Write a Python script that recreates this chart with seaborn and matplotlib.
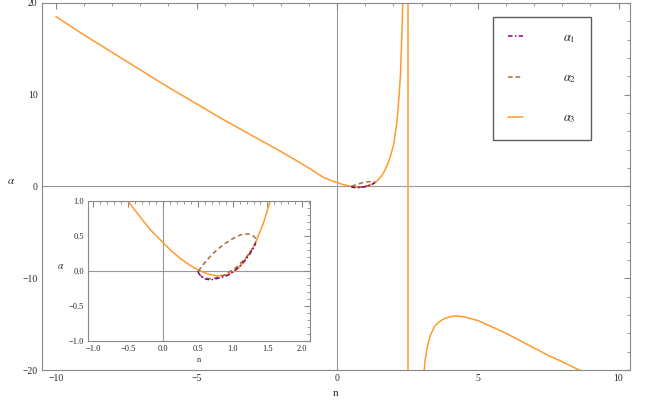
import seaborn as sns
import matplotlib.pyplot as plt
import pandas as pd
from matplotlib.ticker import AutoMinorLocator

# values
n_a3 = [-10, -9, -8, -7, -6, -5, -4, -3, -2, -1.5, -1, -0.75, -0.5, -0.3, -0.17, 0, 0.12, 0.25,
        0.38, 0.5, 0.64, 0.78, 0.92, 1.04, 1.12, 1.2, 1.27, 1.33, 1.44, 1.54, 1.65, 1.8, 1.9,
        2.0, 2.1, 2.15, 2.2, 2.25, 2.28, 2.31, 2.33]
a3 = [18.5, 16.5, 14.6, 12.7, 10.8, 9.0, 7.2, 5.5, 3.8, 2.9, 2.0, 1.5, 1.0, 0.74, 0.58, 0.41,
      0.29, 0.18, 0.09, 0.02, -0.04, -0.07, -0.05, 0.0, 0.08, 0.2, 0.3, 0.41, 0.68, 1.0,
      1.5, 2.5, 3.4, 4.5, 6.5, 8.0, 10.0, 12.3, 15.0, 17.8, 20.5]
n_a3_asym = [2.52, 2.52]
a3_asym = [20.5, -20.5]
n_a3_right = [3.08, 3.12, 3.2, 3.3, 3.45, 3.6, 3.8, 4.0, 4.2, 4.5, 5, 5.5, 6, 6.5, 7, 7.5, 8, 8.8]
a3_right = [-20.3, -19.0, -17.5, -16.3, -15.3, -14.8, -14.4, -14.2, -14.1, -14.2, -14.6, -15.3,
            -16.0, -16.8, -17.6, -18.4, -19.1, -20.3]
n_a2 = [0.51, 0.55, 0.6, 0.67, 0.75, 0.82, 0.9, 0.98, 1.05, 1.12, 1.19, 1.25, 1.3, 1.33, 1.34,
        1.32, 1.27, 1.2, 1.12, 1.05, 0.97, 0.9, 0.82, 0.75, 0.68, 0.62, 0.56, 0.53, 0.51]
a2 = [0.0, 0.06, 0.12, 0.2, 0.28, 0.34, 0.4, 0.45, 0.49, 0.52, 0.53, 0.53, 0.5, 0.47, 0.44,
      0.38, 0.3, 0.2, 0.12, 0.05, 0.0, -0.05, -0.08, -0.1, -0.11, -0.1, -0.08, -0.05, 0.0]
n_a1 = [0.5, 0.52, 0.55, 0.6, 0.65, 0.72, 0.8, 0.88, 0.95, 1.02, 1.1, 1.18, 1.25, 1.3, 1.33]
a1 = [0.0, -0.04, -0.08, -0.11, -0.12, -0.12, -0.1, -0.08, -0.05, 0.0, 0.07, 0.15, 0.25, 0.33, 0.4]

c1, c2, c3 = '#8B008B', '#A0703C', '#FF9A2E'
sns.set_style('white')
plt.rcParams['font.family'] = ['Liberation Serif', 'DejaVu Serif']
plt.rcParams['mathtext.fontset'] = 'stix'


def draw(ax):
    kw = dict(estimator=None, sort=False, ax=ax, lw=1.1)
    sns.lineplot(x=n_a3, y=a3, color=c3, **kw)
    sns.lineplot(x=n_a3_asym, y=a3_asym, color=c3, **kw)
    sns.lineplot(x=n_a3_right, y=a3_right, color=c3, **kw)
    sns.lineplot(x=n_a2, y=a2, color=c2, ls=(0, (3, 2)), **kw)
    sns.lineplot(x=n_a1, y=a1, color=c1, ls=(0, (3, 1.5, 1, 1.5)), **kw)
    ax.axhline(0, color='#999999', lw=0.8, zorder=0)
    ax.axvline(0, color='#999999', lw=0.8, zorder=0)
    for s in ax.spines.values():
        s.set_color('#888888')
        s.set_linewidth(0.8)
    ax.xaxis.set_minor_locator(AutoMinorLocator(5))
    ax.yaxis.set_minor_locator(AutoMinorLocator(5))
    ax.tick_params(which='both', direction='in', top=True, right=True, color='#888888',
                   labelsize=7, pad=3)
    ax.tick_params(which='major', length=4)
    ax.tick_params(which='minor', length=2)


fig = plt.figure(figsize=(6.54, 4.08), dpi=100)
ax = fig.add_axes([0.064, 0.093, 0.899, 0.9])
draw(ax)
ax.set_xlim(-10.5, 10.4)
ax.set_ylim(-20, 20)
ax.set_xticks([-10, -5, 0, 5, 10])
ax.set_yticks([-20, -10, 0, 10, 20])
ax.set_xlabel('n', fontsize=8)
ax.set_ylabel(r'$\alpha$', fontsize=8, rotation=0, labelpad=8)

h = [plt.Line2D([], [], color=c1, ls=(0, (3, 1.5, 1, 1.5)), lw=1.1),
     plt.Line2D([], [], color=c2, ls=(0, (3, 2)), lw=1.1),
     plt.Line2D([], [], color=c3, lw=1.1)]
leg = ax.legend(h, [r'$\alpha_1$', r'$\alpha_2$', r'$\alpha_3$'], loc='upper right',
                bbox_to_anchor=(0.934, 0.962), fontsize=9, labelspacing=2.2, handlelength=1.2,
                handletextpad=3.2, borderpad=1.2, borderaxespad=0, fancybox=False, frameon=True)
leg.get_frame().set_edgecolor('#333333')
leg.get_frame().set_linewidth(1)

ins = fig.add_axes([0.135, 0.164, 0.339, 0.343])
ins.set_facecolor('white')
draw(ins)
ins.set_xlim(-1.07, 2.11)
ins.set_ylim(-1, 1)
ins.set_xticks([-1.0, -0.5, 0.0, 0.5, 1.0, 1.5, 2.0])
ins.set_yticks([-1.0, -0.5, 0.0, 0.5, 1.0])
ins.tick_params(labelsize=6)
ins.set_xlabel('n', fontsize=6, labelpad=2)
ins.set_ylabel(r'$\alpha$', fontsize=7, rotation=0, labelpad=6)

fig.savefig('out.png', dpi=100)
